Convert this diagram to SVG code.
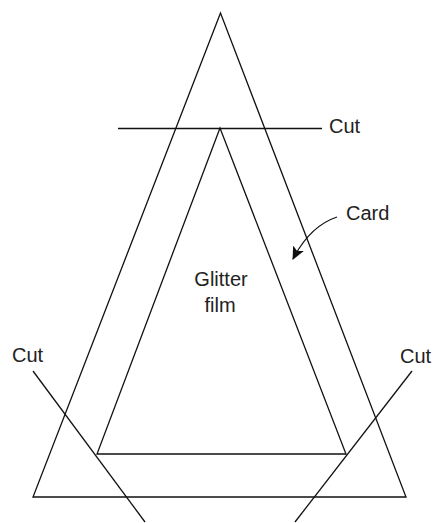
<svg xmlns="http://www.w3.org/2000/svg" width="434" height="523" viewBox="0 0 434 523">
<style>
.ln{fill:none;stroke:#111;stroke-width:1.3;stroke-linejoin:miter}
.t{font-family:"Liberation Sans",Arial,sans-serif;font-size:20px;fill:#222}
</style>
<defs>
<marker id="ah" markerWidth="13" markerHeight="12" refX="12" refY="6" orient="auto" markerUnits="userSpaceOnUse">
<path d="M0,0 L13,6 L0,12 L3,6 Z" fill="#111"/>
</marker>
</defs>
<rect width="434" height="523" fill="#fff"/>
<g id="card">
<polygon class="ln" points="220.5,13 33,497 406,497"/>
</g>
<g id="glitter-film">
<polygon class="ln" points="220,128 97,454 346,454"/>
<text class="t" x="221" y="286" text-anchor="middle">Glitter</text>
<text class="t" x="220" y="312" text-anchor="middle">film</text>
</g>
<g id="connectors">
<line class="ln" x1="118" y1="128.5" x2="322" y2="128.5"/>
<line class="ln" x1="33" y1="371" x2="145" y2="522"/>
<line class="ln" x1="412" y1="371" x2="295" y2="522"/>
<path class="ln" d="M337,217 Q310,226 293,259" marker-end="url(#ah)"/>
</g>
<g id="labels">
<text class="t" x="329" y="133">Cut</text>
<text class="t" x="12" y="362">Cut</text>
<text class="t" x="400" y="363">Cut</text>
<text class="t" x="346" y="220">Card</text>
</g>
</svg>
